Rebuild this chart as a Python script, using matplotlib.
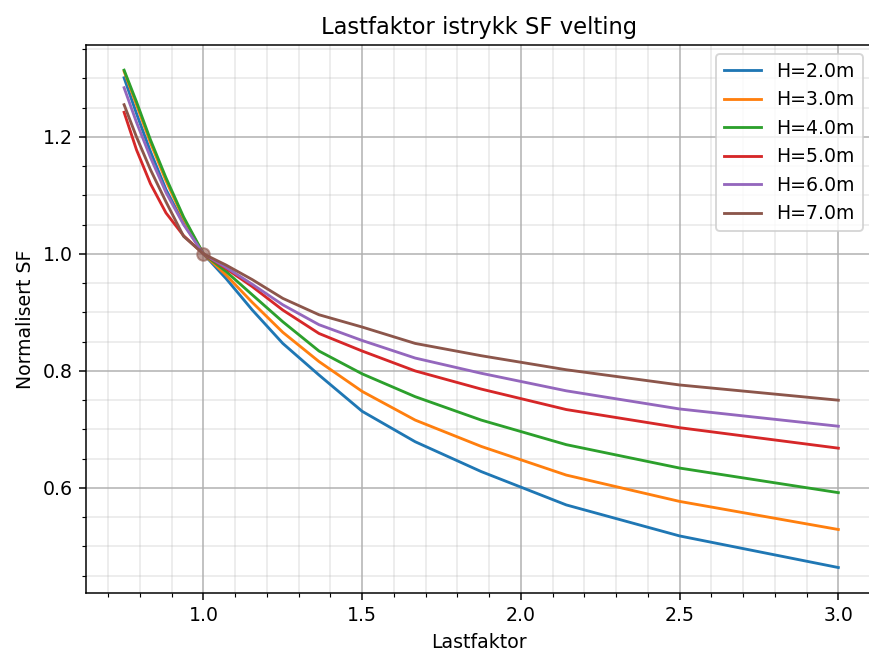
import numpy as np
import matplotlib
matplotlib.use("Agg")
import matplotlib.pyplot as plt
from matplotlib.ticker import MultipleLocator

# lastfaktor-punkter (15/n for n = 20..5)
lastfaktor = [0.75, 0.789, 0.833, 0.882, 0.9375, 1.0, 1.071, 1.154, 1.25, 1.364,
              1.5, 1.667, 1.875, 2.143, 2.5, 3.0]

# normalisert SF per vegghoyde
sf_h2 = [1.301, 1.240, 1.175, 1.110, 1.052, 1.0, 0.958, 0.904, 0.847, 0.793,
         0.731, 0.679, 0.628, 0.571, 0.518, 0.464]
sf_h3 = [1.312, 1.255, 1.190, 1.125, 1.060, 1.0, 0.964, 0.917, 0.866, 0.816,
         0.765, 0.716, 0.671, 0.622, 0.577, 0.529]
sf_h4 = [1.314, 1.260, 1.195, 1.130, 1.063, 1.0, 0.970, 0.930, 0.884, 0.834,
         0.795, 0.756, 0.716, 0.674, 0.634, 0.592]
sf_h5 = [1.242, 1.178, 1.120, 1.070, 1.031, 1.0, 0.975, 0.944, 0.904, 0.864,
         0.834, 0.800, 0.769, 0.734, 0.703, 0.668]
sf_h6 = [1.284, 1.225, 1.165, 1.105, 1.050, 1.0, 0.977, 0.948, 0.913, 0.879,
         0.852, 0.822, 0.796, 0.766, 0.735, 0.7055]
sf_h7 = [1.255, 1.200, 1.144, 1.089, 1.030, 1.0, 0.981, 0.956, 0.924, 0.896,
         0.875, 0.847, 0.826, 0.802, 0.776, 0.750]

hoyder = [2.0, 3.0, 4.0, 5.0, 6.0, 7.0]
serier = [sf_h2, sf_h3, sf_h4, sf_h5, sf_h6, sf_h7]

dpi = 135.78
fig = plt.figure(figsize=(869 / dpi, 650 / dpi), dpi=dpi)
ax = fig.add_axes([86 / 869, 1 - 593 / 650, 786 / 869, 548 / 650])

for h, sf in zip(hoyder, serier):
    ax.plot(lastfaktor, sf, label=f"H={h}m")

# referansepunktet (1, 1)
ax.scatter([1.0], [1.0], s=45, color="tab:brown", alpha=0.6, zorder=3)

ax.set_xlim(0.63, 3.106)
ax.set_ylim(0.4205, 1.357)
ax.xaxis.set_minor_locator(MultipleLocator(0.1))
ax.yaxis.set_minor_locator(MultipleLocator(0.05))
ax.grid(which="major", color="#b0b0b0")
ax.grid(which="minor", color="#b0b0b0", alpha=0.3)

ax.set_title("Lastfaktor istrykk SF velting")
ax.set_xlabel("Lastfaktor")
ax.set_ylabel("Normalisert SF")
ax.legend(loc="upper right")

fig.savefig("out.png", dpi=dpi)
